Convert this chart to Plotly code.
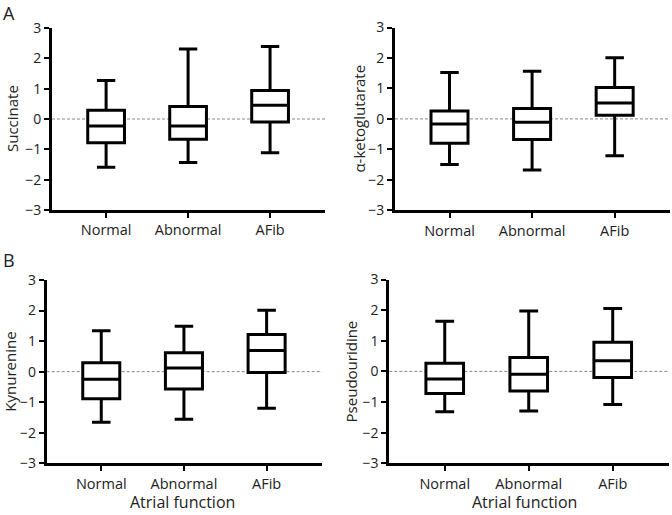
import plotly.graph_objects as go

categories = ["Normal", "Abnormal", "AFib"]

# Box statistics per metabolite: lower whisker, Q1, median, Q3, upper whisker
succinate_low = [-1.59, -1.43, -1.11]
succinate_q1 = [-0.78, -0.67, -0.10]
succinate_med = [-0.23, -0.23, 0.45]
succinate_q3 = [0.29, 0.41, 0.94]
succinate_high = [1.27, 2.31, 2.39]

akg_low = [-1.50, -1.68, -1.21]
akg_q1 = [-0.80, -0.68, 0.12]
akg_med = [-0.17, -0.11, 0.52]
akg_q3 = [0.26, 0.34, 1.03]
akg_high = [1.52, 1.56, 2.01]

kyn_low = [-1.66, -1.56, -1.20]
kyn_q1 = [-0.89, -0.57, -0.03]
kyn_med = [-0.25, 0.12, 0.69]
kyn_q3 = [0.29, 0.62, 1.22]
kyn_high = [1.34, 1.49, 2.01]

pseudo_low = [-1.32, -1.29, -1.08]
pseudo_q1 = [-0.72, -0.64, -0.20]
pseudo_med = [-0.25, -0.09, 0.35]
pseudo_q3 = [0.27, 0.45, 0.95]
pseudo_high = [1.64, 1.97, 2.05]

y_titles = ["Succinate", "α-ketoglutarate", "Kynurenine", "Pseudouridine"]
y_tickvals = [-3, -2, -1, 0, 1, 2, 3]

W, H = 672, 515
FONT = "Open Sans"
TXT = "#222222"

# panel geometry in pixels: (x_left, x_right, y_top, y_bottom)
panels = [
    (52, 325, 28, 210),
    (395, 670, 27.5, 210.3),
    (46.7, 322, 280, 463.3),
    (389.3, 669, 279.5, 463.3),
]
title_x = [12, 358.7, 10, 351]

stats = [
    (succinate_low, succinate_q1, succinate_med, succinate_q3, succinate_high),
    (akg_low, akg_q1, akg_med, akg_q3, akg_high),
    (kyn_low, kyn_q1, kyn_med, kyn_q3, kyn_high),
    (pseudo_low, pseudo_q1, pseudo_med, pseudo_q3, pseudo_high),
]

fig = go.Figure()
layout = {}
annotations = []
shapes = []
for i, (st, geo) in enumerate(zip(stats, panels)):
    n = "" if i == 0 else str(i + 1)
    lo, q1, med, q3, hi = st
    fig.add_trace(go.Box(
        x=categories, q1=q1, median=med, q3=q3,
        lowerfence=lo, upperfence=hi,
        xaxis="x" + n, yaxis="y" + n,
        line=dict(color="black", width=3),
        fillcolor="white", whiskerwidth=0.5,
        boxpoints=False, showlegend=False, hoverinfo="skip",
    ))
    xl, xr, yt, yb = geo
    layout["xaxis" + n] = dict(
        domain=[xl / W, xr / W], anchor="y" + n, automargin=False,
        range=[-0.66, 2.67], showline=True, linecolor="black", linewidth=3,
        ticks="outside", ticklen=5, tickwidth=2, tickcolor="black",
        showgrid=False, zeroline=False,
        tickfont=dict(family=FONT, size=14.5, color=TXT),
        categoryorder="array", categoryarray=categories,
    )
    layout["yaxis" + n] = dict(
        domain=[1 - yb / H, 1 - yt / H], anchor="x" + n, automargin=False,
        range=[-3, 3], tickvals=y_tickvals,
        showline=True, linecolor="black", linewidth=3,
        ticks="outside", ticklen=5, tickwidth=2, tickcolor="black",
        showgrid=False, zeroline=False,
        tickfont=dict(family=FONT, size=14, color=TXT),
    )
    shapes.append(dict(
        type="line", xref="x" + n + " domain", yref="y" + n,
        x0=0, x1=1, y0=0, y1=0, layer="below",
        line=dict(color="#888888", width=1, dash="3px,2px"),
    ))
    annotations.append(dict(
        text=y_titles[i], textangle=-90, showarrow=False,
        xref="paper", yref="paper",
        x=title_x[i] / W, y=1 - ((yt + yb) / 2) / H,
        xanchor="center", yanchor="middle",
        font=dict(family=FONT, size=15, color=TXT),
    ))

for label, xc in [("Atrial function", 183), ("Atrial function", 524)]:
    annotations.append(dict(
        text=label, showarrow=False, xref="paper", yref="paper",
        x=xc / W, y=1 - 502 / H, xanchor="center", yanchor="middle",
        font=dict(family=FONT, size=16, color=TXT),
    ))
for label, yc in [("A", 13), ("B", 260)]:
    annotations.append(dict(
        text=label, showarrow=False, xref="paper", yref="paper",
        x=1 / W, y=1 - yc / H, xanchor="left", yanchor="middle",
        font=dict(family=FONT, size=18, color=TXT),
    ))

fig.update_layout(
    width=W, height=H, margin=dict(l=0, r=0, t=0, b=0),
    paper_bgcolor="white", plot_bgcolor="white",
    boxgap=0.36, showlegend=False,
    annotations=annotations, shapes=shapes,
    **layout,
)
fig.write_html("out.html", config={"displayModeBar": False},
               post_script="document.body.style.margin='0';")
